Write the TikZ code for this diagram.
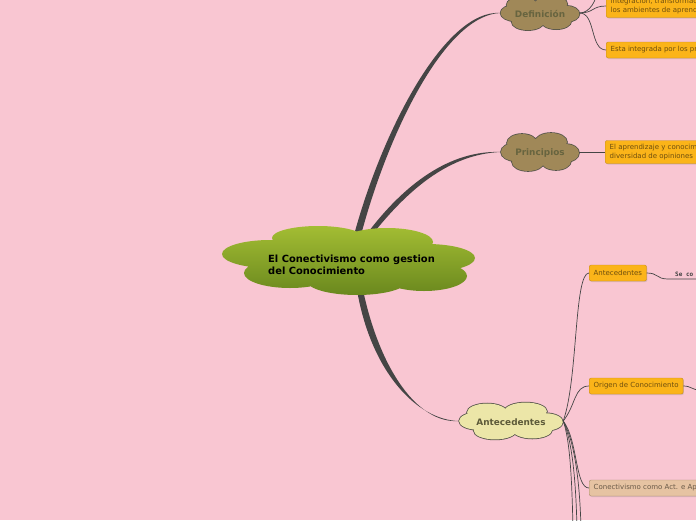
\documentclass[tikz,border=0pt]{standalone}
\usepackage{fontspec}
\setmainfont{DejaVu Sans}
\newfontfamily\monofont{DejaVu Sans Mono}
\usetikzlibrary{positioning,shadows}

\definecolor{bgpink}{HTML}{F9C6D2}
\definecolor{greentop}{HTML}{A3BD33}
\definecolor{greenbot}{HTML}{6A881E}
\definecolor{cloudbrown}{HTML}{A08858}
\definecolor{cloudyellow}{HTML}{ECE6A8}
\definecolor{cloudline}{HTML}{55544A}
\definecolor{cloudtext}{HTML}{67643F}
\definecolor{boxorange}{HTML}{FBB419}
\definecolor{boxline}{HTML}{C48A1C}
\definecolor{boxtext}{HTML}{6E4E0E}
\definecolor{boxbeige}{HTML}{E6C3A2}
\definecolor{beigeline}{HTML}{A88B6C}
\definecolor{beigetext}{HTML}{6A5A48}
\definecolor{linegray}{HTML}{454545}

\begin{document}
\begin{tikzpicture}[x=1pt,y=-1pt,
  puff/.pic={
    \draw[cloudline,line width=1.6pt] (-18,-9) ellipse [x radius=15,y radius=9]
      (11,-10) ellipse [x radius=16,y radius=9] (-25,0) ellipse [x radius=14,y radius=9]
      (26,1) ellipse [x radius=13,y radius=9] (-12,10) ellipse [x radius=16,y radius=9]
      (16,9) ellipse [x radius=15,y radius=9];
    \fill[pic actions] (-18,-9) ellipse [x radius=15,y radius=9]
      (11,-10) ellipse [x radius=16,y radius=9] (-25,0) ellipse [x radius=14,y radius=9]
      (26,1) ellipse [x radius=13,y radius=9] (-12,10) ellipse [x radius=16,y radius=9]
      (16,9) ellipse [x radius=15,y radius=9] (0,0) ellipse [x radius=28,y radius=13];
  },
  bubble/.style={text=cloudtext,font=\fontsize{8.9}{10}\selectfont\bfseries,inner sep=0pt},
  topic/.style={draw=boxline,fill=boxorange,rounded corners=2pt,text=boxtext,anchor=west,
    align=left,minimum height=16,inner xsep=4.5,inner ysep=2,font=\fontsize{7}{9}\selectfont,
    drop shadow={shadow xshift=0.8pt,shadow yshift=-1pt,opacity=0.25}},
  link/.style={draw=linegray,line width=0.7pt},
  branch/.style={fill=linegray}]
\useasboundingbox (0,0) rectangle (696,520);
\fill[bgpink] (0,0) rectangle (696,520);

% main topics
\node[bubble,minimum width=79,minimum height=34] (def) at (540,13) {};
\node[bubble,minimum width=78,minimum height=38] (prin) at (540,152) {};
\node[bubble,minimum width=104,minimum height=37] (ant) at (511,421) {};

% roots under the central cloud
\coordinate (r1l) at (354,235); \coordinate (r1r) at (361,235);
\coordinate (r2l) at (366,235); \coordinate (r2r) at (372,235);
\coordinate (r3l) at (357,290); \coordinate (r3r) at (363,290);

\fill[branch] (r1l) .. controls (383,128) and (446,9) .. (def.west)
  .. controls (446,15) and (389,130) .. (r1r) -- cycle;
\fill[branch] (r2l) .. controls (404,184) and (450,150) .. (prin.west)
  .. controls (451,154) and (410,187) .. (r2r) -- cycle;
\fill[branch] (r3l) .. controls (371,372) and (417,420) .. (ant.west)
  .. controls (418,424) and (380,370) .. (r3r) -- cycle;

\pic[fill=cloudbrown,xscale=1.01,yscale=0.9] at (def) {puff};
\pic[fill=cloudbrown] at (prin) {puff};
\pic[fill=cloudyellow,xscale=1.33,yscale=0.97] at (ant) {puff};
\node[bubble] (deft) at ([yshift=-1]def) {Definición};
\node[bubble] (print) at ([yshift=-1]prin) {Principios};
\node[bubble,text=cloudtext!90!black] (antt) at ([yshift=-1]ant) {Antecedentes};

% central topic
\shade[top color=greentop,bottom color=greenbot]
  (270,254) ellipse [x radius=48,y radius=14]
  (318,238) ellipse [x radius=46,y radius=12]
  (387,242) ellipse [x radius=46,y radius=14]
  (427,258) ellipse [x radius=48,y radius=14]
  (424,276) ellipse [x radius=43,y radius=15]
  (357,281) ellipse [x radius=50,y radius=14]
  (290,273) ellipse [x radius=46,y radius=15]
  (350,262) ellipse [x radius=85,y radius=22];
\node[anchor=west,align=left,inner sep=0pt,font=\fontsize{9.9}{12}\selectfont\bfseries] (main) at (268,265)
  {El Conectivismo como gestion\\del Conocimiento};

% subtopics
\node[topic,minimum height=23,font=\fontsize{7}{8.4}\selectfont] (defa) at (606,6)
  {integración, transformación\\los ambientes de aprendizaje};
\node[topic] (defb) at (606,50) {Esta integrada por los principios};
\node[topic,minimum height=23,font=\fontsize{7}{9.6}\selectfont] (princ) at (605,152)
  {El aprendizaje y conocimiento\\diversidad de opiniones};
\node[topic] (antd) at (589,273) {Antecedentes};
\node[topic] (orig) at (589,386) {Origen de Conocimiento};
\node[topic,draw=beigeline,fill=boxbeige,text=beigetext] (conect) at (589,488) {Conectivismo como Act. e Aprendizaje};
\node[anchor=south west,inner sep=0pt,font=\fontsize{6}{7}\monofont\bfseries,text=black!75] (se) at (675,277) {Se co};

\coordinate (defup) at (597,-10);
\coordinate (sebend) at (668,279);
\coordinate (seend) at (700,279);
\coordinate (origend) at (700,390);
\coordinate (down1) at (573,530);
\coordinate (down2) at (577,530);
\coordinate (down3) at (581,530);

% links
\draw[link] (def.east) .. controls +(10,0) and +(0,10) .. (defup);
\draw[link] (def.east) .. controls +(14,0) and +(-14,0) .. (defa.west);
\draw[link] (def.east) .. controls +(16,0) and +(-16,0) .. (defb.west);
\draw[link] (prin.east) -- (princ.west);
\draw[link] (ant.east) .. controls (578,380) and (574,273) .. (antd.west);
\draw[link] (ant.east) .. controls (576,405) and (574,386) .. (orig.west);
\draw[link] (ant.east) .. controls (578,440) and (575,488) .. (conect.west);
\draw[link] (ant.east) .. controls (570,440) and (572,480) .. (down1);
\draw[link] (ant.east) .. controls (572,440) and (576,480) .. (down2);
\draw[link] (ant.east) .. controls (574,440) and (580,480) .. (down3);
\draw[link] (antd.east) .. controls +(12,0) and +(-12,0) .. (sebend) -- (seend);
\draw[link] (orig.east) .. controls +(8,0) and +(-8,0) .. (origend);
\end{tikzpicture}
\end{document}
